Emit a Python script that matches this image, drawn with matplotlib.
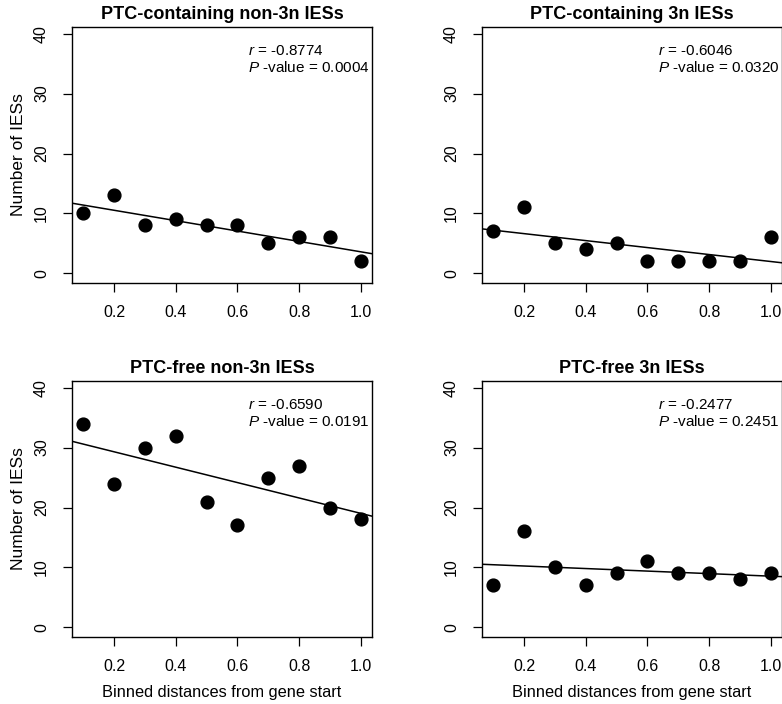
import numpy as np
import matplotlib
matplotlib.use("Agg")
import matplotlib.pyplot as plt

plt.rcParams['font.family'] = ['Liberation Sans', 'DejaVu Sans']
plt.rcParams['mathtext.fontset'] = 'custom'
plt.rcParams['mathtext.rm'] = 'Liberation Sans'
plt.rcParams['mathtext.it'] = 'Liberation Sans:italic'

# data
bins = [0.1, 0.2, 0.3, 0.4, 0.5, 0.6, 0.7, 0.8, 0.9, 1.0]
titles = ["PTC-containing non-3n IESs", "PTC-containing 3n IESs",
          "PTC-free non-3n IESs", "PTC-free 3n IESs"]
ptc_non3n = [10, 13, 8, 9, 8, 8, 5, 6, 6, 2]
ptc_3n = [7, 11, 5, 4, 5, 2, 2, 2, 2, 6]
free_non3n = [34, 24, 30, 32, 21, 17, 25, 27, 20, 18]
free_3n = [7, 16, 10, 7, 9, 11, 9, 9, 8, 9]
r_vals = ["-0.8774", "-0.6046", "-0.6590", "-0.2477"]
p_vals = ["0.0004", "0.0320", "0.0191", "0.2451"]
series = [ptc_non3n, ptc_3n, free_non3n, free_3n]

W, H = 782, 704
fig = plt.figure(figsize=(W / 100, H / 100), dpi=100)

# pixel boxes (left, top) of each panel
boxes = [(72, 27), (482, 27), (72, 381), (482, 381)]
aw, ah = 300, 256
xlim = (0.064, 1.036)

for i, (x0, y0) in enumerate(boxes):
    ax = fig.add_axes([x0 / W, (H - y0 - ah) / H, aw / W, ah / H])
    y = np.array(series[i])
    x = np.array(bins)
    ax.scatter(x, y, s=85, color='black', zorder=3, clip_on=False)
    # least squares line across the whole panel
    m, b = np.polyfit(x, y, 1)
    xs = np.array(xlim)
    ax.plot(xs, m * xs + b, color='black', lw=1.1)

    ax.set_xlim(*xlim)
    ax.set_ylim(-1.6, 41.1)
    ax.set_xticks([0.2, 0.4, 0.6, 0.8, 1.0])
    ax.set_xticklabels(["0.2", "0.4", "0.6", "0.8", "1.0"])
    ax.set_yticks([0, 10, 20, 30, 40])
    ax.set_yticklabels(["0", "10", "20", "30", "40"], rotation=90, va='center')
    ax.tick_params(direction='out', length=6.5, width=0.9, labelsize=11.5)
    ax.tick_params(axis='x', pad=9)
    ax.tick_params(axis='y', pad=10)
    for sp in ax.spines.values():
        sp.set_linewidth(1.0)
    ax.set_title(titles[i], fontsize=13, fontweight='bold', pad=6)

    ax.text(0.587, 0.905, r"$\it{r}$ = " + r_vals[i], transform=ax.transAxes,
            fontsize=11, va='center')
    ax.text(0.587, 0.84, r"$\it{P}$ -value = " + p_vals[i], transform=ax.transAxes,
            fontsize=11, va='center')

    if i % 2 == 0:
        ax.set_ylabel("Number of IESs", fontsize=12.5, labelpad=6)
    if i >= 2:
        ax.set_xlabel("Binned distances from gene start", fontsize=11.8, labelpad=8)

fig.savefig("out.png", dpi=100)
